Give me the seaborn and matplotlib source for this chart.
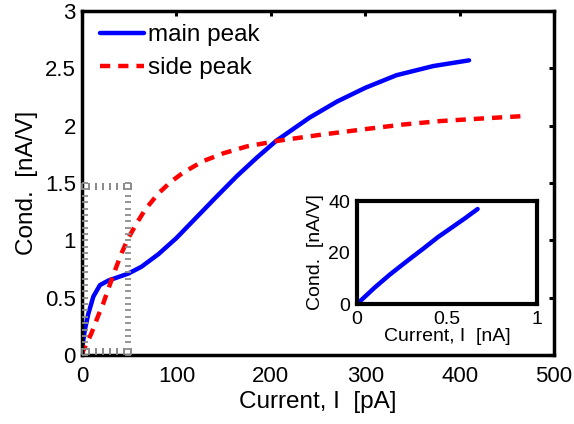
import numpy as np
import pandas as pd
import matplotlib
matplotlib.use("Agg")
import matplotlib.pyplot as plt
import seaborn as sns

# main plot data
main_x = [0, 0.3, 3, 6.7, 12, 19, 28, 38.5, 49, 63, 81, 100, 120, 140, 164, 185, 206, 241, 270, 300, 333, 372, 410]
main_y = [0, 0.07, 0.22, 0.36, 0.51, 0.61, 0.65, 0.68, 0.71, 0.77, 0.88, 1.02, 1.19, 1.36, 1.56, 1.72, 1.87, 2.07, 2.21, 2.33, 2.44, 2.52, 2.57]
side_x = [0, 1.4, 10, 17, 22.5, 28, 35, 42, 49, 58, 67, 81, 94, 107, 128, 150, 175, 209, 252, 300, 340, 379, 418, 470]
side_y = [0, 0.04, 0.19, 0.34, 0.45, 0.58, 0.74, 0.89, 1.02, 1.15, 1.27, 1.41, 1.51, 1.59, 1.69, 1.76, 1.82, 1.87, 1.92, 1.97, 2.01, 2.04, 2.06, 2.085]

# inset data
inset_x = [0, 0.1, 0.18, 0.28, 0.37, 0.45, 0.52, 0.6, 0.67]
inset_y = [0, 6.5, 11.3, 16.8, 21.6, 26.0, 29.4, 33.3, 36.9]

sns.set_style("white")
plt.rcParams["font.family"] = ["Liberation Sans", "DejaVu Sans"]
plt.rcParams.update({"text.color": "black", "axes.labelcolor": "black",
                     "xtick.color": "black", "ytick.color": "black"})

fig = plt.figure(figsize=(5.74, 4.24), dpi=100)
ax = fig.add_axes([0.1429, 0.1627, 0.8223, 0.8113])

main_df = pd.DataFrame({"x": main_x, "y": main_y})
side_df = pd.DataFrame({"x": side_x, "y": side_y})
sns.lineplot(data=main_df, x="x", y="y", ax=ax, color="blue", lw=3.2, label="main peak")
sns.lineplot(data=side_df, x="x", y="y", ax=ax, color="red", lw=3.2, ls=(0, (2.3, 1.8)), label="side peak")

ax.set_xlim(0, 500)
ax.set_ylim(0, 3)
ax.set_xticks([0, 100, 200, 300, 400, 500])
ax.set_yticks([0, 0.5, 1, 1.5, 2, 2.5, 3])
ax.set_yticklabels(["0", "0.5", "1", "1.5", "2", "2.5", "3"])
ax.set_xlabel("Current, I  [pA]", fontsize=17.5, labelpad=3)
ax.set_ylabel("Cond.  [nA/V]", fontsize=17.5, labelpad=5)
ax.tick_params(direction="in", length=3.5, width=2.2, labelsize=16, top=True, right=True)
ax.tick_params(axis="x", pad=8)
ax.tick_params(axis="y", pad=4.5)
for s in ax.spines.values():
    s.set_linewidth(2.5)
    s.set_color("black")
leg = ax.legend(loc="upper left", bbox_to_anchor=(0.0275, 0.976), frameon=False, fontsize=17.5,
                handlelength=1.8, handletextpad=0.2, labelspacing=0.45, borderpad=0.2,
                borderaxespad=0.0)

# dotted ghost box in the lower left corner
ghost = fig.add_axes([0.1429, 0.1627, 0.8223 * 52 / 500, 0.8113 * 1.5 / 3])
ghost.patch.set_alpha(0)
ghost.set_xlim(0, 1)
ghost.set_ylim(0, 1)
for s in ghost.spines.values():
    s.set_visible(False)
ghost.set_xticks(np.linspace(0, 1, 8))
ghost.set_yticks(np.linspace(0, 1, 28))
ghost.set_xticklabels([])
ghost.set_yticklabels([])
ghost.tick_params(direction="in", length=5, width=1.3, color="0.5",
                  top=True, right=True, left=True, bottom=True)
ghost.tick_params(axis="y", length=4.5, color="0.55")

# inset
ins = fig.add_axes([0.622, 0.283, 0.3136, 0.2429])
ins_df = pd.DataFrame({"x": inset_x, "y": inset_y})
sns.lineplot(data=ins_df, x="x", y="y", ax=ins, color="blue", lw=3.2)
ins.set_xlim(0, 1)
ins.set_ylim(0, 40)
ins.set_xticks([0, 0.5, 1])
ins.set_xticklabels(["0", "0.5", "1"])
ins.set_yticks([0, 20, 40])
ins.set_xlabel("Current, I  [nA]", fontsize=14, labelpad=0)
ins.set_ylabel("Cond.  [nA/V]", fontsize=14, labelpad=3)
ins.tick_params(direction="in", length=0, labelsize=14)
ins.tick_params(axis="x", pad=5)
ins.tick_params(axis="y", pad=5)
for s in ins.spines.values():
    s.set_linewidth(3)
    s.set_color("black")

fig.savefig("out.png", dpi=100)
